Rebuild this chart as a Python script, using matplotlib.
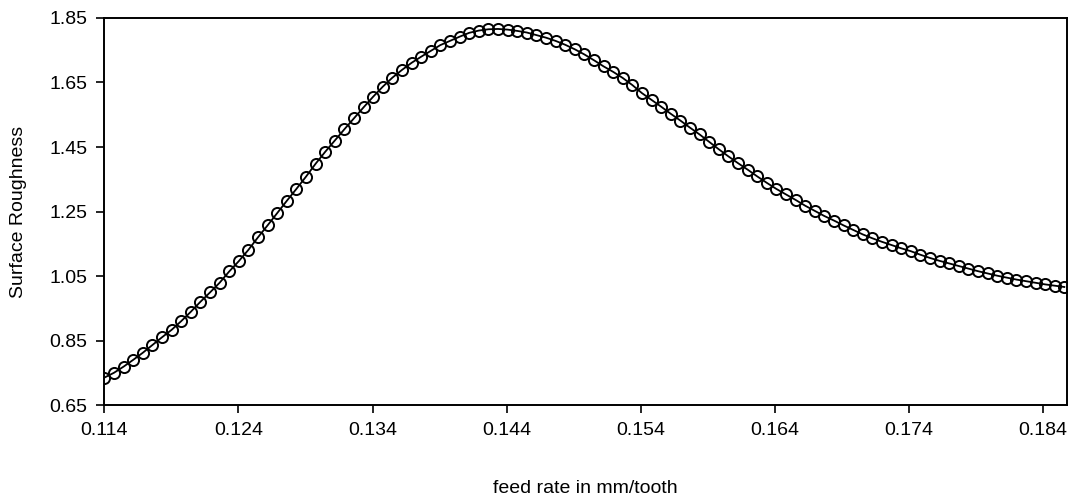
import matplotlib
matplotlib.use('Agg')
import matplotlib.pyplot as plt

plt.rcParams['font.family'] = ['Liberation Sans', 'DejaVu Sans']

# feed rate (mm/tooth): 101 evenly spaced samples
feed_start = 0.114
feed_step = 0.000716
roughness = [
    0.735, 0.750, 0.769, 0.790, 0.812, 0.836, 0.860, 0.883, 0.910, 0.939,
    0.970, 0.999, 1.029, 1.064, 1.096, 1.131, 1.170, 1.207, 1.245, 1.283,
    1.320, 1.358, 1.398, 1.435, 1.470, 1.505, 1.539, 1.573, 1.606, 1.637,
    1.665, 1.689, 1.711, 1.730, 1.748, 1.766, 1.779, 1.792, 1.804, 1.811,
    1.815, 1.816, 1.814, 1.810, 1.805, 1.797, 1.789, 1.779, 1.767, 1.753,
    1.737, 1.719, 1.700, 1.683, 1.664, 1.642, 1.617, 1.596, 1.575, 1.553,
    1.532, 1.510, 1.489, 1.466, 1.443, 1.421, 1.400, 1.380, 1.359, 1.339,
    1.320, 1.303, 1.286, 1.268, 1.252, 1.236, 1.222, 1.207, 1.193, 1.179,
    1.167, 1.156, 1.146, 1.136, 1.127, 1.116, 1.106, 1.097, 1.089, 1.081,
    1.073, 1.065, 1.058, 1.051, 1.045, 1.039, 1.034, 1.029, 1.024, 1.020,
    1.016,
]
feed = [round(feed_start + i * feed_step, 6) for i in range(len(roughness))]

x_ticks = [0.114, 0.124, 0.134, 0.144, 0.154, 0.164, 0.174, 0.184]
y_ticks = [0.65, 0.85, 1.05, 1.25, 1.45, 1.65, 1.85]

fig = plt.figure(figsize=(10.74, 5.04), dpi=100)
ax = fig.add_axes([0.0972, 0.1964, 0.8963, 0.7679])

ax.plot(feed, roughness, color='black', linewidth=1.3,
        marker='o', markersize=8, markerfacecolor='none',
        markeredgecolor='black', markeredgewidth=1.4)

ax.set_xlim(0.114, 0.1858)
ax.set_ylim(0.65, 1.85)
ax.set_xticks(x_ticks)
ax.set_xticklabels(['%.3f' % v for v in x_ticks])
ax.set_yticks(y_ticks)
ax.set_yticklabels(['%.2f' % v for v in y_ticks])

ax.tick_params(direction='out', length=6, width=1.2, labelsize=14, pad=6)
for s in ax.spines.values():
    s.set_linewidth(1.4)

ax.set_xlabel('feed rate in mm/tooth', fontsize=14, labelpad=30)
ax.set_ylabel('Surface Roughness', fontsize=14, labelpad=16)

fig.savefig('out.png', dpi=100)
